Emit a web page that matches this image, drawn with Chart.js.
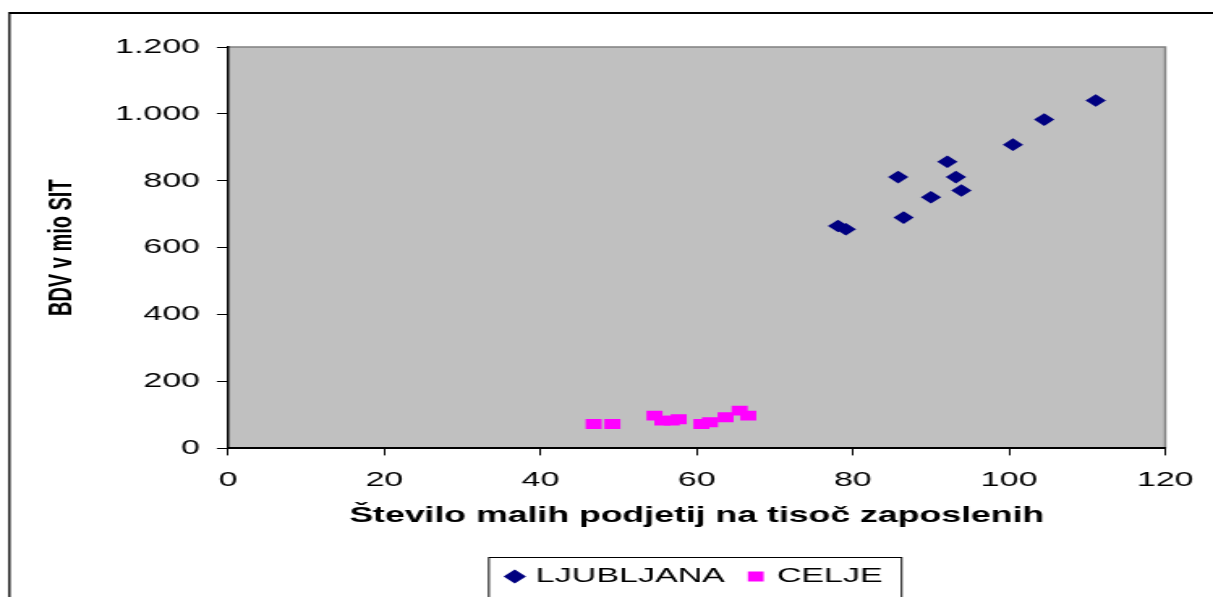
<!DOCTYPE html>
<html>
<head>
<meta charset="utf-8">
<script src="https://cdn.jsdelivr.net/npm/chart.js@4/dist/chart.umd.min.js"></script>
<style>
    html, body { margin: 0; padding: 0; background: #fff; overflow: hidden; }
    /* the reference is stretched sideways, so draw narrow and scale up */
    #wrap { width: 749px; height: 597px; transform: scaleX(1.6195); transform-origin: 0 0; }
</style>
</head>
<body>
<div id="wrap"><canvas id="scatter" width="749" height="597"></canvas></div>
<script>
// --- data ---
const ljubljanaX = [111.1, 104.5, 100.5, 92.1, 85.8, 93.2, 93.9, 90.0, 86.5, 78.1, 79.1];
const ljubljanaY = [1040, 983, 908, 857, 811, 811, 771, 751, 690, 665, 655];
const celjeX = [46.8, 49.2, 54.6, 55.6, 56.8, 57.7, 60.6, 61.7, 63.7, 65.5, 66.6];
const celjeY = [73, 73, 98, 83, 83, 87, 73, 78, 93, 113, 98];
const seriesNames = ['LJUBLJANA', 'CELJE'];
const xTickLabels = ['0', '20', '40', '60', '80', '100', '120'];
const yTickLabels = ['0', '200', '400', '600', '800', '1.000', '1.200'];
const xTitle = 'Število malih podjetij na tisoč zaposlenih';
const yTitle = 'BDV v mio SIT';

const toPoints = (xs, ys) => xs.map((x, i) => ({ x: x, y: ys[i] }));
const FONT = "'Liberation Sans', Arial, sans-serif";

// grey plot area, outer frame and legend box
const framePlugin = {
    id: 'frame',
    beforeDraw(chart) {
        const { ctx, chartArea: a } = chart;
        ctx.save();
        ctx.fillStyle = '#fff';
        ctx.fillRect(0, 0, chart.width, chart.height);
        ctx.fillStyle = '#c0c0c0';
        ctx.fillRect(a.left, a.top, a.right - a.left, a.bottom - a.top);
        ctx.strokeStyle = '#808080';
        ctx.lineWidth = 1.5;
        ctx.beginPath();
        ctx.moveTo(a.left, a.top);
        ctx.lineTo(a.right, a.top);
        ctx.lineTo(a.right, a.bottom);
        ctx.stroke();
        // outer chart frame (right/bottom edges fall outside the picture)
        ctx.strokeStyle = '#000';
        ctx.lineWidth = 2;
        ctx.beginPath();
        ctx.moveTo(5.8, 13);
        ctx.lineTo(chart.width + 10, 13);
        ctx.stroke();
        ctx.lineWidth = 1.3;
        ctx.beginPath();
        ctx.moveTo(5.8, 12);
        ctx.lineTo(5.8, chart.height + 10);
        ctx.stroke();
        ctx.restore();
    },
    afterDraw(chart) {
        const hb = chart.legend && chart.legend.legendHitBoxes;
        if (!hb || !hb.length) return;
        const first = hb[0], last = hb[hb.length - 1];
        const cy = first.top + first.height / 2;
        const left = first.left - 13.5;
        const right = last.left + last.width + 11.7;
        const ctx = chart.ctx;
        ctx.save();
        ctx.strokeStyle = '#000';
        ctx.lineWidth = 1;
        ctx.strokeRect(left, cy - 19, right - left, 80);
        ctx.restore();
    }
};

new Chart(document.getElementById('scatter'), {
    type: 'scatter',
    data: {
        datasets: [{
            label: seriesNames[0],
            data: toPoints(ljubljanaX, ljubljanaY),
            pointStyle: 'rectRot',
            pointRadius: 6.3,
            backgroundColor: '#000080',
            borderColor: '#000080',
            borderWidth: 0
        }, {
            label: seriesNames[1],
            data: toPoints(celjeX, celjeY),
            pointStyle: 'rect',
            pointRadius: 7,
            backgroundColor: '#ff00ff',
            borderColor: '#ff00ff',
            borderWidth: 0
        }]
    },
    options: {
        responsive: false,
        devicePixelRatio: 1,
        animation: false,
        layout: { padding: { left: 0, right: 25.8, top: 47, bottom: 0 } },
        plugins: {
            tooltip: { enabled: false },
            legend: {
                position: 'bottom',
                fullSize: false,
                maxHeight: 50,
                labels: {
                    usePointStyle: true,
                    boxWidth: 5,
                    boxHeight: 9.8,
                    padding: 16.6,
                    color: '#000',
                    font: { family: FONT, size: 21 }
                }
            }
        },
        scales: {
            x: {
                type: 'linear',
                min: 0, max: 120,
                afterFit: (s) => { s.height = 101; },
                border: { display: true, color: '#000', width: 2 },
                grid: { drawOnChartArea: false, drawTicks: true, tickLength: 7, tickColor: '#000', tickWidth: 1 },
                ticks: {
                    stepSize: 20, padding: 12, color: '#000',
                    font: { family: FONT, size: 21 },
                    callback: (v, i) => xTickLabels[i]
                },
                title: {
                    display: true, text: xTitle, color: '#000',
                    font: { family: FONT, size: 22, weight: 'bold' },
                    padding: { top: 0, bottom: 20 }
                }
            },
            y: {
                type: 'linear',
                min: 0, max: 1200,
                afterFit: (s) => { s.width = 140.9; },
                border: { display: true, color: '#000', width: 1.5 },
                grid: { drawOnChartArea: false, drawTicks: true, tickLength: 7, tickColor: '#000', tickWidth: 1 },
                ticks: {
                    stepSize: 200, padding: 10.4, color: '#000',
                    font: { family: FONT, size: 21 },
                    callback: (v, i) => yTickLabels[i]
                },
                title: {
                    display: true, text: yTitle, color: '#000',
                    font: { family: FONT, size: 20, weight: 'bold' },
                    padding: { top: 26, bottom: 0 }
                }
            }
        }
    },
    plugins: [framePlugin]
});
</script>
</body>
</html>
